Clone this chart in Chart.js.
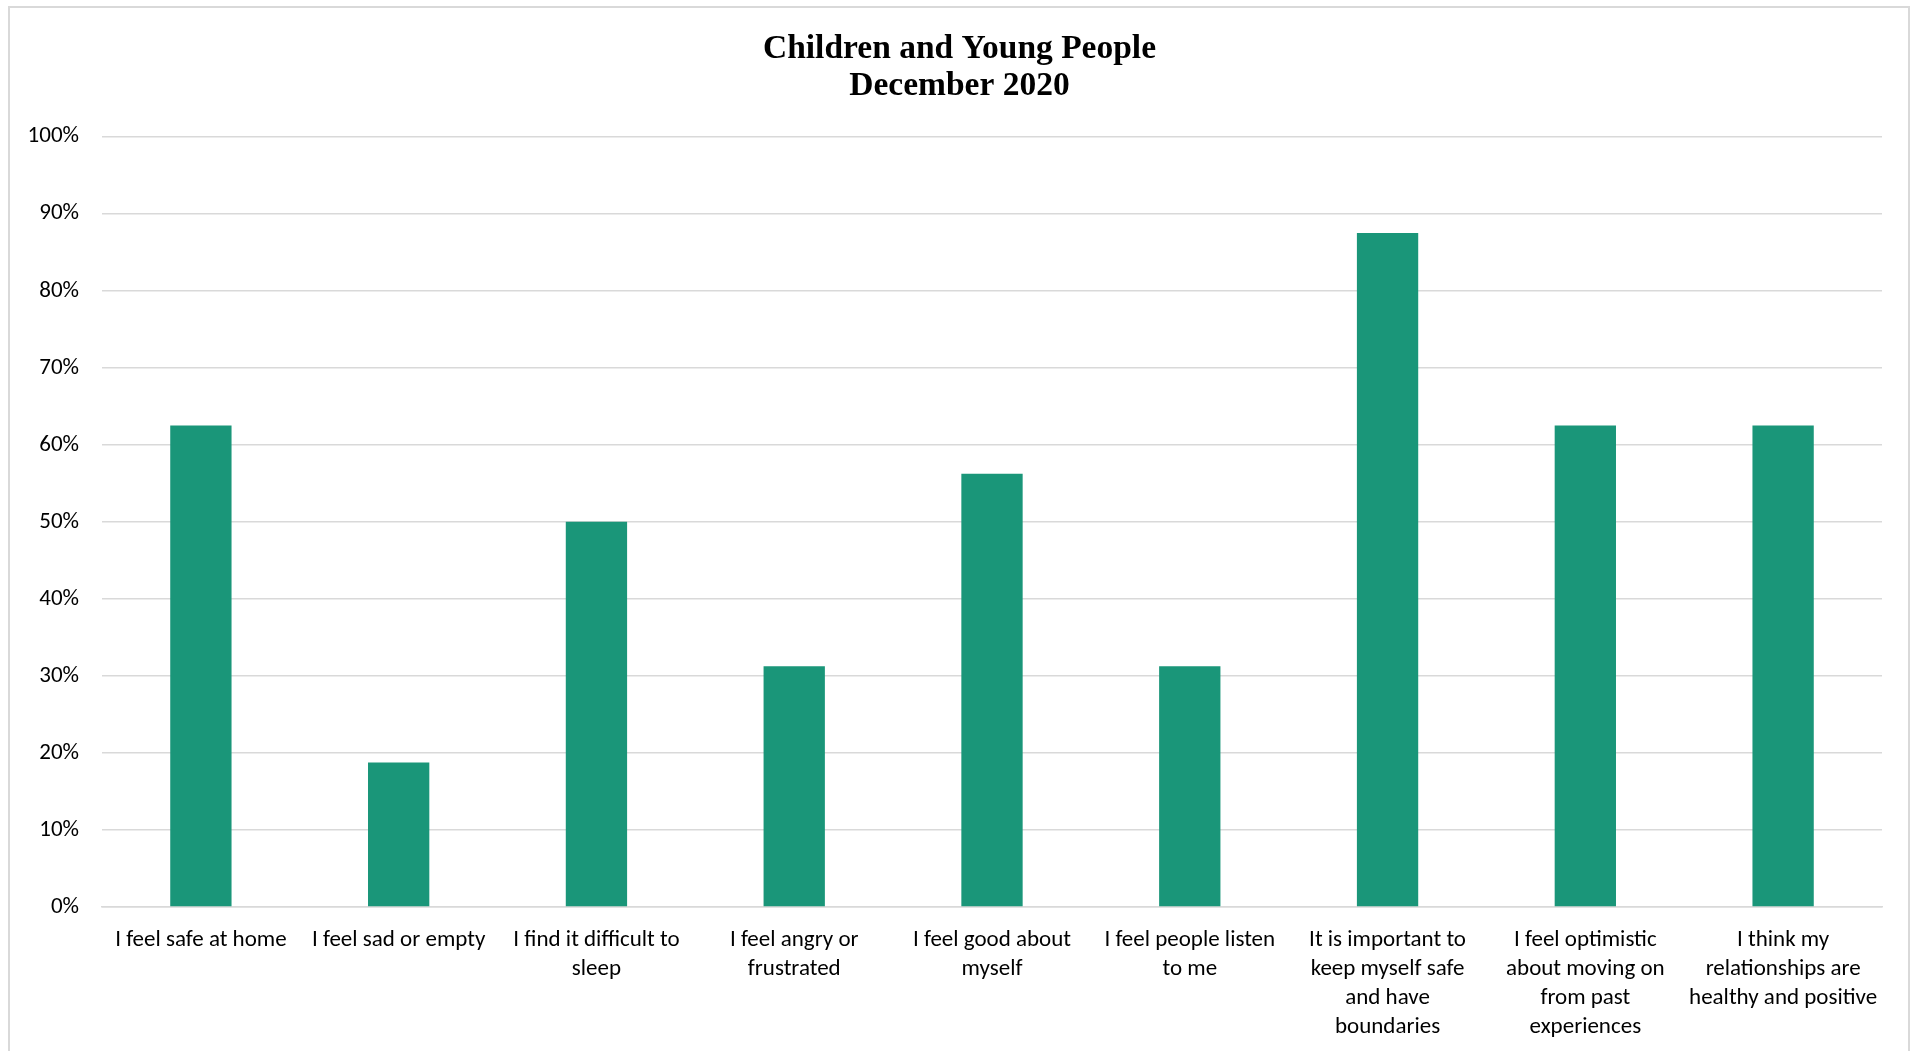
<!DOCTYPE html>
<html>
<head>
<meta charset="utf-8">
<script src="https://cdn.jsdelivr.net/npm/chart.js@4/dist/chart.umd.min.js"></script>
<style>
  html, body { margin: 0; padding: 0; background: #fff; overflow: hidden; }
  #frame { position: absolute; left: 8px; top: 6px; width: 1902px; height: 1100px; border: 2px solid #d9d9d9; box-sizing: border-box; }
  #wrap { position: absolute; left: 0; top: 0; width: 1919px; height: 1051px; }
</style>
</head>
<body>
<div id="frame"></div>
<div id="wrap"><canvas id="chart"></canvas></div>
<script>
// chart data
const categories = [
  ['I feel safe at home'],
  ['I feel sad or empty'],
  ['I find it difficult to', 'sleep'],
  ['I feel angry or', 'frustrated'],
  ['I feel good about', 'myself'],
  ['I feel people listen', 'to me'],
  ['It is important to', 'keep myself safe', 'and have', 'boundaries'],
  ['I feel optimistic', 'about moving on', 'from past', 'experiences'],
  ['I think my', 'relationships are', 'healthy and positive']
];
const percentValues = [62.5, 18.75, 50, 31.25, 56.25, 31.25, 87.5, 62.5, 62.5];
const titleLines = ['Children and Young People', 'December 2020'];

const labelFont = "Carlito, Lato, 'Liberation Sans', sans-serif";
const barColor = '#1a9679';

new Chart(document.getElementById('chart'), {
  type: 'bar',
  data: {
    labels: categories,
    datasets: [{
      data: percentValues,
      backgroundColor: barColor,
      barPercentage: 0.31,
      categoryPercentage: 1
    }]
  },
  options: {
    responsive: true,
    maintainAspectRatio: false,
    animation: false,
    layout: { padding: 0 },
    plugins: {
      legend: { display: false },
      tooltip: { enabled: false },
      title: {
        display: true,
        text: titleLines,
        color: '#000',
        font: { family: "'Liberation Serif', 'DejaVu Serif', serif", size: 33.5, weight: 'bold', lineHeight: 1.13 },
        padding: { top: 30, bottom: 31 }
      }
    },
    scales: {
      x: {
        grid: { display: false, drawTicks: false },
        border: { display: true, color: '#d9d9d9', width: 1.5 },
        ticks: {
          color: '#000',
          font: { family: labelFont, size: 23, lineHeight: 1.26 },
          padding: 19,
          maxRotation: 0,
          autoSkip: false
        },
        afterFit: s => { s.height = 144; }
      },
      y: {
        min: 0,
        max: 100,
        grid: { color: '#d9d9d9', lineWidth: 1.5, drawTicks: false },
        border: { display: false },
        ticks: {
          stepSize: 10,
          color: '#000',
          font: { family: labelFont, size: 23 },
          padding: 23,
          callback: v => v + '%'
        },
        afterFit: s => { s.width = 102; }
      },
      // empty right-hand gutter so the title stays centred on the page
      gutter: {
        type: 'linear',
        position: 'right',
        grid: { display: false, drawTicks: false },
        border: { display: false },
        ticks: { display: false },
        afterFit: s => { s.width = 37; }
      }
    }
  }
});
</script>
</body>
</html>
